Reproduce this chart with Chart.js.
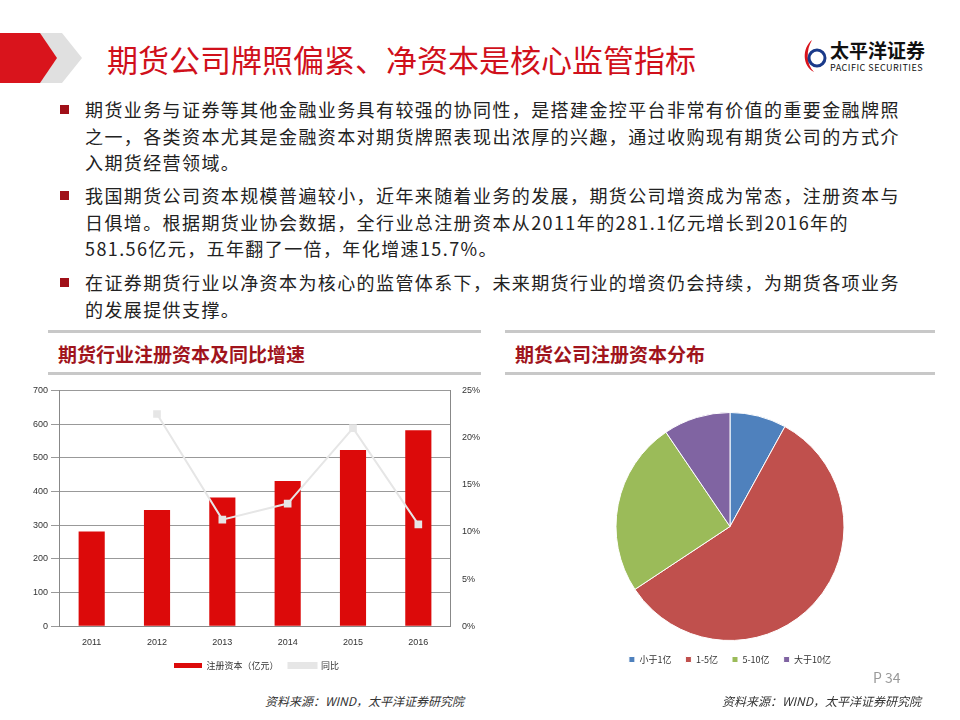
<!DOCTYPE html>
<html><head><meta charset="utf-8">
<script src="https://cdn.jsdelivr.net/npm/chart.js@4"></script>
<style>
body{margin:0;width:960px;height:720px;background:#fff;font-family:"Noto Sans CJK SC","Noto Sans",sans-serif;position:relative;overflow:hidden}
.abs{position:absolute}
.title{left:107px;top:36px;font-size:31px;color:#d0101b}
.bul{left:60px;font-size:18px;letter-spacing:1.4px;line-height:26.5px;color:#222;white-space:nowrap}
.bul .sq{position:absolute;left:0;top:9px;width:9px;height:9px;background:#a01018}
.bul .t{margin-left:25px}
.hr{height:3px;background:#c8c8c8}
.sec{font-size:19px;color:#a0141c;font-weight:bold}
.src{font-size:12px;font-style:italic;color:#333}
</style></head><body>
<svg class="abs" style="left:0;top:30px" width="90" height="56"><polygon points="30,3 62,3 82,28 62,53 30,53 50,28" fill="#e0e0e0"/><polygon points="0,3 40,3 57,28 40,53 0,53" fill="#d9141c"/></svg>
<div class="abs title">期货公司牌照偏紧、净资本是核心监管指标</div>
<div class="abs" style="left:800px;top:36px;width:130px;height:40px">
<svg class="abs" style="left:0;top:0" width="30" height="40"><path d="M12 4 C2 12 2 30 14 36 C6 28 6 14 12 4Z" fill="#d9141c"/><circle cx="17" cy="22" r="8" fill="none" stroke="#1a3a8a" stroke-width="3"/></svg>
<div class="abs" style="left:30px;top:0;font-size:19px;font-weight:bold;color:#111;white-space:nowrap">太平洋证券</div>
<div class="abs" style="left:30px;top:25px;font-size:9px;color:#111;white-space:nowrap;letter-spacing:0.5px">PACIFIC SECURITIES</div>
</div>
<div class="abs bul" style="top:96px"><div class="sq"></div><div class="t">期货业务与证券等其他金融业务具有较强的协同性，是搭建金控平台非常有价值的重要金融牌照<br>之一，各类资本尤其是金融资本对期货牌照表现出浓厚的兴趣，通过收购现有期货公司的方式介<br>入期货经营领域。</div></div>
<div class="abs bul" style="top:182px"><div class="sq"></div><div class="t">我国期货公司资本规模普遍较小，近年来随着业务的发展，期货公司增资成为常态，注册资本与<br>日俱增。根据期货业协会数据，全行业总注册资本从2011年的281.1亿元增长到2016年的<br>581.56亿元，五年翻了一倍，年化增速15.7%。</div></div>
<div class="abs bul" style="top:269px"><div class="sq"></div><div class="t">在证券期货行业以净资本为核心的监管体系下，未来期货行业的增资仍会持续，为期货各项业务<br>的发展提供支撑。</div></div>
<div class="abs hr" style="left:48px;top:330px;width:433px"></div>
<div class="abs hr" style="left:48px;top:372px;width:433px"></div>
<div class="abs hr" style="left:505px;top:330px;width:430px"></div>
<div class="abs hr" style="left:505px;top:372px;width:430px"></div>
<div class="abs sec" style="left:58px;top:340px">期货行业注册资本及同比增速</div>
<div class="abs sec" style="left:515px;top:340px">期货公司注册资本分布</div>
<div class="abs" style="left:30px;top:382px;width:458px;height:298px"><canvas id="c1"></canvas></div>
<div class="abs" style="left:560px;top:400px;width:340px;height:276px"><canvas id="c2"></canvas></div>
<div class="abs src" style="left:265px;top:692px">资料来源：WIND，太平洋证券研究院</div>
<div class="abs src" style="left:722px;top:692px">资料来源：WIND，太平洋证券研究院</div>
<div class="abs" style="left:873px;top:667px;font-size:14px;color:#999">P 34</div>
<script>
const years=["2011","2012","2013","2014","2015","2016"];
const capital=[281.1,345,382,431,523,581.56];
const growth=[null,22.5,11.3,13.0,21.0,10.8];
const pieLabels=["小于1亿","1-5亿","5-10亿","大于10亿"];
const pieValues=[8,57.7,24.8,9.5];
const tf={family:"Liberation Sans, Arial",size:9};
new Chart(document.getElementById('c1'),{
 data:{labels:years,datasets:[
  {type:'line',label:'同比',data:growth,yAxisID:'y2',borderColor:'#e6e6e6',backgroundColor:'#e6e6e6',borderWidth:2,pointStyle:'rect',pointRadius:4,order:0},
  {type:'bar',label:'注册资本（亿元）',data:capital,yAxisID:'y',backgroundColor:'#dc0a0a',barPercentage:0.4,categoryPercentage:1,order:1}
 ]},
 options:{responsive:true,maintainAspectRatio:false,animation:false,
  layout:{padding:{top:5,right:5}},
  plugins:{legend:{position:'bottom',reverse:true,labels:{boxWidth:28,boxHeight:5,font:{family:"Noto Sans CJK SC",size:9},color:'#333'}},tooltip:{enabled:false}},
  scales:{
   x:{grid:{display:false},border:{color:'#888'},ticks:{font:tf,color:'#333'}},
   y:{min:0,max:700,ticks:{stepSize:100,font:tf,color:'#333'},grid:{color:'#999'},border:{color:'#888'}},
   y2:{position:'right',min:0,max:25,ticks:{stepSize:5,font:tf,color:'#333',callback:v=>v+'%'},grid:{display:false},border:{color:'#888'}}
  }}
});
new Chart(document.getElementById('c2'),{type:'pie',
 data:{labels:pieLabels,datasets:[{data:pieValues,backgroundColor:['#4f81bd','#c0504d','#9bbb59','#8064a2'],borderColor:'#fff',borderWidth:1}]},
 options:{responsive:true,maintainAspectRatio:false,animation:false,
  layout:{padding:{top:12,bottom:2}},
  plugins:{legend:{position:'bottom',labels:{boxWidth:6,boxHeight:6,font:{family:"Noto Sans CJK SC",size:9},color:'#333',padding:14}},tooltip:{enabled:false}}}
});
</script>
</body></html>
